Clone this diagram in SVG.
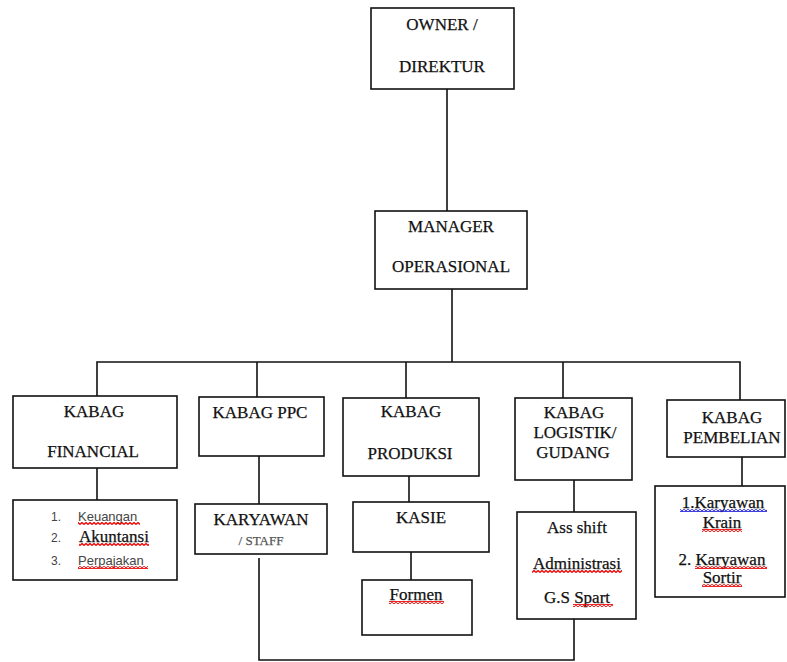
<svg xmlns="http://www.w3.org/2000/svg" width="787" height="662" viewBox="0 0 787 662">
<defs>
<style>
.box{fill:#fff;stroke:#111;stroke-width:1.6}
.ln{fill:none;stroke:#111;stroke-width:1.6}
.t{font-family:"Liberation Serif","Times New Roman",serif;font-size:17px;fill:#111;stroke:#111;stroke-width:0.25;text-anchor:middle}
.s{font-family:"Liberation Sans",Arial,sans-serif;font-size:13px;fill:#444}
.n{font-family:"Liberation Sans",Arial,sans-serif;font-size:12px;fill:#444}
</style>
<pattern id="sqr" width="4" height="3" patternUnits="userSpaceOnUse"><polyline points="0,2.5 2,0.5 4,2.5" fill="none" stroke="#e00" stroke-width="1.3"/></pattern>
<pattern id="sqb" width="4" height="3" patternUnits="userSpaceOnUse"><polyline points="0,2.5 2,0.5 4,2.5" fill="none" stroke="#22d" stroke-width="1.3"/></pattern>
</defs>
<rect width="787" height="662" fill="#fff"/>
<g id="connectors">
<line class="ln" x1="447" y1="89" x2="447" y2="211"/>
<line class="ln" x1="452" y1="289" x2="452" y2="362"/>
<polyline class="ln" points="97,396 97,362 740,362 740,400"/>
<line class="ln" x1="257" y1="362" x2="257" y2="397"/>
<line class="ln" x1="406" y1="362" x2="406" y2="398"/>
<line class="ln" x1="563" y1="362" x2="563" y2="398"/>
<line class="ln" x1="97" y1="468" x2="97" y2="500"/>
<line class="ln" x1="259" y1="456" x2="259" y2="504"/>
<line class="ln" x1="409" y1="476" x2="409" y2="502"/>
<line class="ln" x1="411" y1="552" x2="411" y2="580"/>
<line class="ln" x1="574" y1="480" x2="574" y2="512"/>
<line class="ln" x1="742" y1="457" x2="742" y2="486"/>
<polyline class="ln" points="259,558 259,660 574,660 574,619"/>
</g>
<g id="owner">
<rect class="box" x="371" y="8" width="143" height="81"/>
<text class="t" x="442" y="30">OWNER /</text>
<text class="t" x="442" y="72">DIREKTUR</text>
</g>
<g id="manager">
<rect class="box" x="375" y="211" width="152" height="78"/>
<text class="t" x="451" y="232">MANAGER</text>
<text class="t" x="451" y="272">OPERASIONAL</text>
</g>
<g id="kabag-financial">
<rect class="box" x="13" y="396" width="164" height="72"/>
<text class="t" x="94" y="417">KABAG</text>
<text class="t" x="93" y="457">FINANCIAL</text>
</g>
<g id="financial-list">
<rect class="box" x="13" y="500" width="164" height="80"/>
<text class="n" x="51" y="521">1.</text>
<text class="s" x="78" y="521">Keuangan</text>
<rect x="78" y="522" width="62" height="3" fill="url(#sqr)"/>
<text class="n" x="51" y="542">2.</text>
<text class="t" x="79" y="542" style="text-anchor:start">Akuntansi</text>
<rect x="79" y="543" width="70" height="3" fill="url(#sqr)"/>
<text class="n" x="51" y="565">3.</text>
<text class="s" x="78" y="565">Perpajakan</text>
<rect x="78" y="566" width="70" height="3" fill="url(#sqr)"/>
</g>
<g id="kabag-ppc">
<rect class="box" x="199" y="397" width="125" height="59"/>
<text class="t" x="260" y="418">KABAG PPC</text>
</g>
<g id="karyawan-staff">
<rect class="box" x="195" y="504" width="132" height="50"/>
<text class="t" x="261" y="525">KARYAWAN</text>
<text class="t" x="261" y="545" style="font-size:13px;fill:#555;stroke:#555">/ STAFF</text>
</g>
<g id="kabag-produksi">
<rect class="box" x="343" y="398" width="136" height="78"/>
<text class="t" x="411" y="417">KABAG</text>
<text class="t" x="410" y="459">PRODUKSI</text>
</g>
<g id="kasie">
<rect class="box" x="353" y="502" width="136" height="50"/>
<text class="t" x="421" y="523">KASIE</text>
</g>
<g id="formen">
<rect class="box" x="362" y="580" width="110" height="55"/>
<text class="t" x="416" y="600">Formen</text>
<rect x="389" y="601" width="55" height="3" fill="url(#sqr)"/>
</g>
<g id="kabag-logistik">
<rect class="box" x="515" y="398" width="117" height="82"/>
<text class="t" x="574" y="418">KABAG</text>
<text class="t" x="575" y="438">LOGISTIK/</text>
<text class="t" x="573" y="458">GUDANG</text>
</g>
<g id="logistik-staff">
<rect class="box" x="517" y="512" width="119" height="107"/>
<text class="t" x="577" y="533">Ass shift</text>
<text class="t" x="577" y="569">Administrasi</text>
<rect x="532" y="570" width="90" height="3" fill="url(#sqr)"/>
<text class="t" x="577" y="603">G.S Spart</text>
<rect x="573" y="604" width="40" height="3" fill="url(#sqr)"/>
</g>
<g id="kabag-pembelian">
<rect class="box" x="667" y="400" width="118" height="57"/>
<text class="t" x="732" y="423">KABAG</text>
<text class="t" x="732" y="443">PEMBELIAN</text>
</g>
<g id="pembelian-staff">
<rect class="box" x="655" y="486" width="130" height="111"/>
<text class="t" x="723" y="508">1.Karyawan</text>
<rect x="680" y="509" width="87" height="3" fill="url(#sqb)"/>
<text class="t" x="722" y="528">Krain</text>
<rect x="702" y="529" width="40" height="3" fill="url(#sqr)"/>
<text class="t" x="722" y="565">2. Karyawan</text>
<rect x="695" y="566" width="72" height="3" fill="url(#sqr)"/>
<text class="t" x="722" y="583">Sortir</text>
<rect x="702" y="584" width="40" height="3" fill="url(#sqr)"/>
</g>
</svg>
